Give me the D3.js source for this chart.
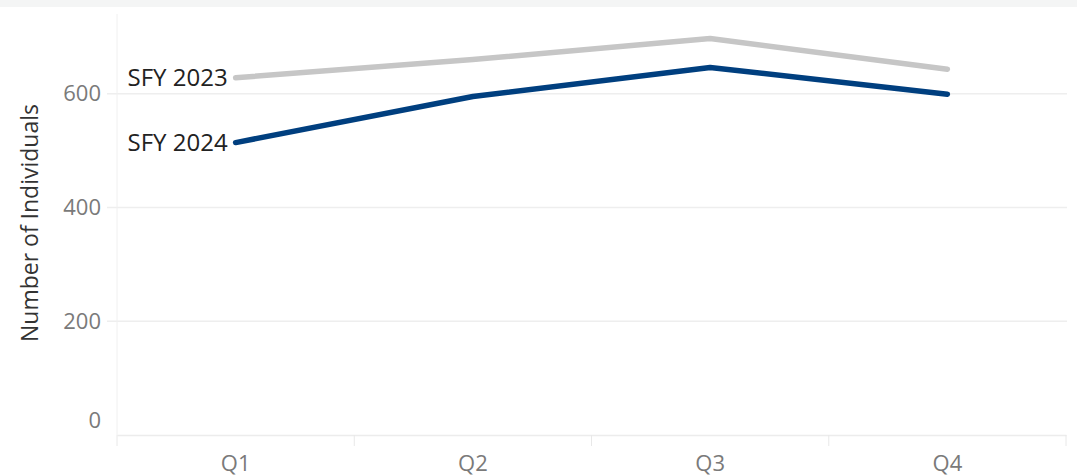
<!DOCTYPE html>
<html><head><meta charset="utf-8">
<script src="https://cdn.jsdelivr.net/npm/d3@7"></script>
<style>body{margin:0;background:#fff;}svg{display:block;font-family:"Open Sans",Lato,sans-serif;}</style>
</head><body>
<svg id="c" width="1077" height="475"></svg>
<script>
const quarters = ["Q1","Q2","Q3","Q4"];
const seriesNames = ["SFY 2023","SFY 2024"];
const sfy2023 = [628, 660, 697, 643];
const sfy2024 = [514, 595, 646, 599];
const yTicks = [0, 200, 400, 600];
const colors = ["#c6c6c6", "#003f7f"];

(function(){
const svg = d3.select("#c");
svg.append("rect").attr("x",0).attr("y",0).attr("width",1077).attr("height",7).attr("fill","#f4f5f5");

const pL = 117, pR = 1066, pT = 14, pB = 435;
const x = d3.scaleBand().domain(quarters).range([pL, pR]).padding(0);
const y = d3.scaleLinear().domain([0, 740]).range([pB, pT]);

svg.append("g").selectAll("line").data(yTicks.filter(d=>d>0)).join("line")
  .attr("x1",107).attr("x2",1067).attr("y1",d=>y(d)).attr("y2",d=>y(d))
  .attr("stroke","#eeeeee").attr("stroke-width",1.5);
svg.append("line").attr("x1",pL).attr("x2",pL).attr("y1",pT).attr("y2",pB)
  .attr("stroke","#f0f0f0").attr("stroke-width",1);
svg.append("g").selectAll("text").data(yTicks).join("text")
  .attr("x",101).attr("y",d=>y(d)).attr("dy",d=>d===0?"-0.33em":"0.35em").attr("text-anchor","end")
  .attr("fill","#7a7a7a").attr("font-size",22).text(d=>d);
svg.append("text").attr("transform",`translate(38,223) rotate(-90)`)
  .attr("text-anchor","middle").attr("fill","#333").attr("font-size",23).text("Number of Individuals");

const xa = svg.append("g").attr("transform",`translate(0,${pB})`)
  .call(d3.axisBottom(x).tickSize(0).tickPadding(20));
xa.select(".domain").attr("stroke","#ececec").attr("stroke-width",1.5);
xa.selectAll("text").attr("fill","#7a7a7a").attr("font-size",22).attr("font-family","'Open Sans',Lato,sans-serif");
const bounds = quarters.map(q=>x(q)).concat([x(quarters[3])+x.bandwidth()]);
svg.append("g").selectAll("line").data(bounds).join("line")
  .attr("x1",d=>d).attr("x2",d=>d).attr("y1",pB).attr("y2",pB+11)
  .attr("stroke","#e8e8e8").attr("stroke-width",1);

const line = d3.line().x((d,i)=>x(quarters[i])+x.bandwidth()/2).y(d=>y(d));
[sfy2023, sfy2024].forEach((s,k)=>{
  svg.append("path").datum(s).attr("d",line).attr("fill","none")
    .attr("stroke",colors[k]).attr("stroke-width",5.5).attr("stroke-linecap","round").attr("stroke-linejoin","round");
  svg.append("text").attr("x",x(quarters[0])+x.bandwidth()/2-8).attr("y",y(s[0])).attr("dy","0.35em")
    .attr("text-anchor","end").attr("fill","#222").attr("font-size",24).text(seriesNames[k]);
});
})();
</script>
</body></html>
